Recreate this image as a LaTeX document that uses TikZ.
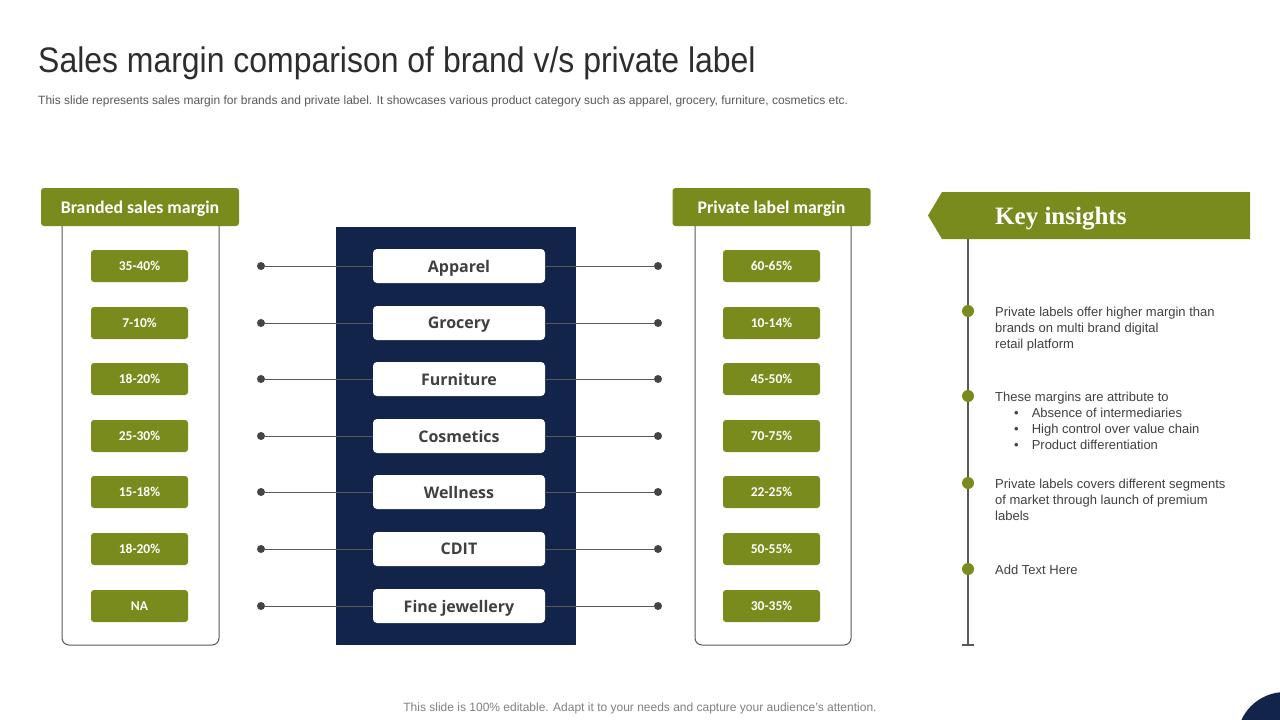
\documentclass[tikz,border=0pt]{standalone}
\usepackage{fontspec}
\setmainfont{Liberation Sans}
\newfontfamily\titlefont{Liberation Sans}[FakeStretch=0.9]
\newfontfamily\calfont{Carlito}
\newfontfamily\opfont{Open Sans}
\newfontfamily\serfont{Liberation Serif}
\usetikzlibrary{positioning}

\definecolor{keyolive}{RGB}{122,139,30}
\definecolor{deepnavy}{RGB}{19,36,75}
\definecolor{textgray}{RGB}{64,64,64}
\definecolor{linegray}{RGB}{89,89,89}
\definecolor{dotgray}{RGB}{68,68,68}

\begin{document}
\begin{tikzpicture}[
    x=1pt, y=-1pt,
    header/.style={fill=keyolive, rounded corners=3pt, minimum width=198pt, minimum height=38pt,
        inner sep=0pt, text depth=0pt, text=white, font=\calfont\bfseries\fontsize{17.8}{20}\selectfont},
    pill/.style={fill=keyolive, rounded corners=3pt, minimum width=97pt, minimum height=32pt,
        inner sep=0pt, text depth=0pt, text=white, font=\calfont\bfseries\fontsize{13.5}{16}\selectfont},
    cat/.style={fill=white, rounded corners=4pt, minimum width=172pt, minimum height=34pt,
        inner sep=0pt, text depth=0pt, text=textgray, font=\opfont\bfseries\fontsize{16}{19}\selectfont},
    dot/.style={circle, fill=dotgray, minimum size=8pt, inner sep=0pt},
    kdot/.style={circle, fill=keyolive, minimum size=12pt, inner sep=0pt},
    insight/.style={anchor=north west, align=left, inner sep=0pt, text=textgray,
        font=\fontsize{13}{16}\selectfont},
    link/.style={draw=linegray, line width=1pt},
    frame/.style={draw=linegray, line width=1pt, rounded corners=7pt}
]

% ── Canvas ──────────────────────────────────────────────────
\useasboundingbox (0,0) rectangle (1280,720);
\fill[white] (0,0) rectangle (1280,720);
\begin{scope}
    \clip (0,0) rectangle (1280,720);
    \fill[deepnavy] (1285,740) circle (48);
\end{scope}

% ── Title and notes ────────────────────────────────────────
\node[anchor=base west, inner sep=0pt, text=textgray!70!black, font=\titlefont\fontsize{35.5}{40}\selectfont]
    (title) at (38,72) {Sales margin comparison of brand v/s private label};
\node[anchor=base west, inner sep=0pt, text=linegray, font=\fontsize{12}{14}\selectfont]
    (sub) at (38,104) {This slide represents sales margin for brands and private label. It showcases various product category such as apparel, grocery, furniture, cosmetics etc.};
\node[anchor=base, inner sep=0pt, text=gray, font=\fontsize{12}{14}\selectfont]
    (foot) at (640,711) {This slide is 100\% editable. Adapt it to your needs and capture your audience's attention.};

% ── Col 1: branded margins ─────────────────────────────────
\draw[frame] (62,226) -- (62,645) -- (219,645) -- (219,226);
\node[header] (hb) at (140,207) {Branded sales margin};
\node[pill] (l1) at (139.5,266) {35-40\%};
\node[pill] (l2) at (139.5,323) {7-10\%};
\node[pill] (l3) at (139.5,379) {18-20\%};
\node[pill] (l4) at (139.5,436) {25-30\%};
\node[pill] (l5) at (139.5,492) {15-18\%};
\node[pill] (l6) at (139.5,549) {18-20\%};
\node[pill] (l7) at (139.5,606) {NA};

% ── Col 2: product categories ──────────────────────────────
\fill[deepnavy] (336,227) rectangle (576,645);
\node[cat] (c1) at (459,266) {Apparel};
\node[cat] (c2) at (459,323) {Grocery};
\node[cat] (c3) at (459,379) {Furniture};
\node[cat] (c4) at (459,436) {Cosmetics};
\node[cat] (c5) at (459,492) {Wellness};
\node[cat] (c6) at (459,549) {CDIT};
\node[cat] (c7) at (459,606) {Fine jewellery};

% ── Col 3: private label margins ───────────────────────────
\draw[frame] (695,226) -- (695,645) -- (851,645) -- (851,226);
\node[header] (hp) at (771.5,207) {Private label margin};
\node[pill] (p1) at (771.5,266) {60-65\%};
\node[pill] (p2) at (771.5,323) {10-14\%};
\node[pill] (p3) at (771.5,379) {45-50\%};
\node[pill] (p4) at (771.5,436) {70-75\%};
\node[pill] (p5) at (771.5,492) {22-25\%};
\node[pill] (p6) at (771.5,549) {50-55\%};
\node[pill] (p7) at (771.5,606) {30-35\%};

% ── Connectors (dot to category to dot) ────────────────────
\foreach \i/\y in {1/266, 2/323, 3/379, 4/436, 5/492, 6/549, 7/606} {
    \node[dot] (dl\i) at (261,\y) {};
    \node[dot] (dr\i) at (658,\y) {};
    \draw[link] (dl\i) -- (c\i);
    \draw[link] (c\i) -- (dr\i);
}

% ── Key insights ───────────────────────────────────────────
\fill[keyolive] (928,215.5) -- (942,192) -- (1250,192) -- (1250,239) -- (942,239) -- cycle;
\node[anchor=west, inner sep=0pt, text depth=0pt, text=white, font=\serfont\bfseries\fontsize{25}{28}\selectfont]
    (ki) at (995,216) {Key insights};
\draw[linegray, line width=1.2pt] (968,239) -- (968,645);
\draw[linegray, line width=1.2pt] (962,645) -- (974,645);

\node[kdot] (k1) at (968,311) {};
\node[kdot] (k2) at (968,396) {};
\node[kdot] (k3) at (968,483) {};
\node[kdot] (k4) at (968,569) {};

\node[insight] (t1) at (995,307) {Private labels offer higher margin than\\ brands on multi brand digital\\ retail platform};
\node[insight] (t2) at (995,392) {These margins are attribute to\\
    \hspace*{19pt}\textbullet\hspace{13pt}Absence of intermediaries\\
    \hspace*{19pt}\textbullet\hspace{13pt}High control over value chain\\
    \hspace*{19pt}\textbullet\hspace{13pt}Product differentiation};
\node[insight] (t3) at (995,479) {Private labels covers different segments\\ of market through launch of premium\\ labels};
\node[insight] (t4) at (995,565) {Add Text Here};

\end{tikzpicture}
\end{document}
